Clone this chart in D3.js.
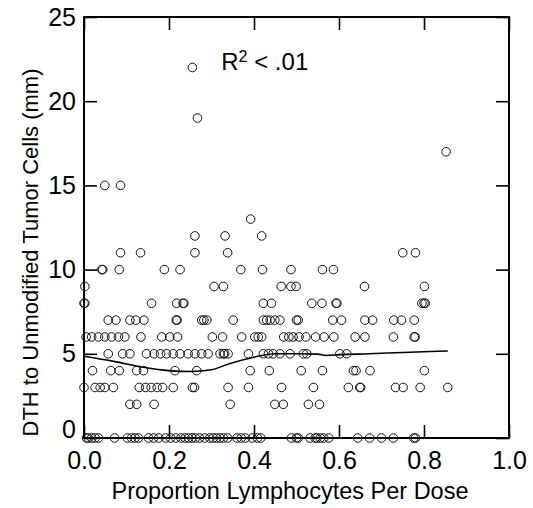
<!DOCTYPE html>
<html>
<head>
<meta charset="utf-8">
<script src="https://cdn.jsdelivr.net/npm/d3@7"></script>
<style>
  body { margin: 0; background: #fff; }
  svg { display: block; font-family: "Liberation Sans", Arial, sans-serif; }
</style>
</head>
<body>
<svg width="533" height="508"></svg>
<script>
// DTH response (mm) levels and the lymphocyte proportions observed at each level
const dthLevels = [0, 2, 3, 4, 5, 6, 7, 8, 9, 10, 11, 12, 13, 15, 17, 19, 22];
const proportions = [
  // 0 mm
  [0.006, 0.010, 0.018, 0.026, 0.034, 0.072, 0.102, 0.112, 0.120, 0.128, 0.152, 0.164, 0.176,
   0.192, 0.204, 0.216, 0.228, 0.238, 0.246, 0.254, 0.262, 0.272, 0.284, 0.296, 0.304, 0.312,
   0.320, 0.328, 0.338, 0.360, 0.370, 0.380, 0.396, 0.408, 0.416, 0.488, 0.500, 0.504, 0.532,
   0.544, 0.548, 0.556, 0.564, 0.576, 0.644, 0.672, 0.700, 0.728, 0.776, 0.780],
  // 2 mm
  [0.108, 0.124, 0.165, 0.344, 0.449, 0.469, 0.528, 0.554],
  // 3 mm
  [0.000, 0.026, 0.038, 0.049, 0.069, 0.130, 0.145, 0.158, 0.172, 0.185, 0.210, 0.255, 0.260,
   0.339, 0.387, 0.465, 0.540, 0.622, 0.649, 0.651, 0.733, 0.751, 0.791, 0.856],
  // 4 mm
  [0.020, 0.063, 0.083, 0.124, 0.140, 0.214, 0.265, 0.391, 0.436, 0.511, 0.561, 0.634, 0.640,
   0.673, 0.801],
  // 5 mm
  [0.057, 0.091, 0.108, 0.147, 0.165, 0.180, 0.194, 0.210, 0.226, 0.245, 0.261, 0.277, 0.292,
   0.320, 0.328, 0.331, 0.339, 0.387, 0.422, 0.434, 0.445, 0.461, 0.485, 0.516, 0.524, 0.602,
   0.618],
  // 6 mm
  [0.005, 0.018, 0.034, 0.049, 0.065, 0.081, 0.096, 0.134, 0.183, 0.202, 0.220, 0.302, 0.326,
   0.371, 0.402, 0.410, 0.418, 0.470, 0.482, 0.492, 0.506, 0.522, 0.545, 0.565, 0.588, 0.638,
   0.661, 0.728, 0.777, 0.779],
  // 7 mm
  [0.057, 0.075, 0.108, 0.122, 0.141, 0.217, 0.219, 0.277, 0.282, 0.289, 0.351, 0.422, 0.430,
   0.438, 0.449, 0.461, 0.500, 0.504, 0.585, 0.606, 0.661, 0.679, 0.729, 0.747, 0.777],
  // 8 mm
  [0.000, 0.002, 0.159, 0.218, 0.233, 0.235, 0.422, 0.441, 0.536, 0.560, 0.593, 0.595, 0.795,
   0.800, 0.803],
  // 9 mm
  [0.002, 0.306, 0.328, 0.464, 0.487, 0.499, 0.660, 0.801],
  // 10 mm
  [0.042, 0.044, 0.083, 0.189, 0.226, 0.369, 0.420, 0.487, 0.561, 0.587],
  // 11 mm
  [0.086, 0.133, 0.261, 0.338, 0.750, 0.780],
  // 12 mm
  [0.261, 0.332, 0.418],
  // 13 mm
  [0.392],
  // 15 mm
  [0.049, 0.086],
  // 17 mm
  [0.852],
  // 19 mm
  [0.267],
  // 22 mm
  [0.255]
];

// smoothed (lowess) trend
const trendX = [0.0, 0.07, 0.14, 0.20, 0.25, 0.30, 0.34, 0.40, 0.45, 0.50, 0.55, 0.57, 0.60, 0.67, 0.75, 0.856];
const trendY = [4.85, 4.55, 4.2, 4.0, 3.95, 4.05, 4.4, 4.8, 5.0, 5.0, 4.98, 4.9, 4.95, 5.0, 5.08, 5.17];

const xTicks = [0, 0.2, 0.4, 0.6, 0.8, 1.0];
const yTicks = [0, 5, 10, 15, 20, 25];

const MARGIN = { left: 84, top: 17 };
const WIDTH = 425;
const HEIGHT = 421;

const svg = d3.select("svg");
const g = svg.append("g").attr("transform", `translate(${MARGIN.left},${MARGIN.top})`);

const x = d3.scaleLinear().domain([0, 1]).range([0, WIDTH]);
const y = d3.scaleLinear().domain([0, 25]).range([HEIGHT, 0]);

// inward ticks on all four sides
const TICK = 13;
const axes = [
  [d3.axisBottom(x), `translate(0,${HEIGHT})`, true],
  [d3.axisTop(x), null, false],
  [d3.axisLeft(y), null, true],
  [d3.axisRight(y), `translate(${WIDTH},0)`, false]
];
axes.forEach(([axis, tr, labels], i) => {
  axis.tickValues(i < 2 ? xTicks : yTicks)
    .tickSizeInner(-TICK)
    .tickSizeOuter(0)
    .tickPadding(i < 2 ? 13 : 8)
    .tickFormat(labels ? (i < 2 ? d3.format(".1f") : d3.format("d")) : "");
  const a = g.append("g").attr("transform", tr).call(axis);
  a.select(".domain").remove();
  a.selectAll(".tick line").attr("stroke", "#000").attr("stroke-width", 1.6);
  a.selectAll(".tick text")
    .attr("fill", "#000")
    .style("font-size", "25px")
    .style("font-family", "Liberation Sans, Arial, sans-serif");
  // the y "0" sits a little higher so it clears the x labels
  if (i === 2) a.selectAll(".tick text").filter((d) => d === 0).attr("y", -9);
});

g.append("rect")
  .attr("width", WIDTH)
  .attr("height", HEIGHT)
  .attr("fill", "none")
  .attr("stroke", "#000")
  .attr("stroke-width", 2);

const points = dthLevels.flatMap((d, i) => proportions[i].map((p) => ({ p, d })));

g.append("g")
  .selectAll("circle")
  .data(points)
  .join("circle")
  .attr("cx", (d) => x(d.p))
  .attr("cy", (d) => y(d.d))
  .attr("r", 4.3)
  .attr("fill", "none")
  .attr("stroke", "#111")
  .attr("stroke-width", 1);

const line = d3.line()
  .x((d, i) => x(trendX[i]))
  .y((d) => y(d))
  .curve(d3.curveMonotoneX);

g.append("path")
  .attr("d", line(trendY))
  .attr("fill", "none")
  .attr("stroke", "#000")
  .attr("stroke-width", 1.6);

// R squared annotation
const r2 = g.append("text")
  .attr("x", x(0.323))
  .attr("y", 53)
  .style("font-size", "24px");
r2.append("tspan").text("R");
r2.append("tspan").attr("dy", -8).style("font-size", "16px").text("2");
r2.append("tspan").attr("dy", 8).text(" < .01");

svg.append("text")
  .attr("x", 290)
  .attr("y", 499)
  .attr("text-anchor", "middle")
  .style("font-size", "23.5px")
  .text("Proportion Lymphocytes Per Dose");

svg.append("text")
  .attr("transform", `translate(38,${MARGIN.top + HEIGHT / 2 + 25}) rotate(-90)`)
  .attr("text-anchor", "middle")
  .style("font-size", "22px")
  .text("DTH to Unmodified Tumor Cells (mm)");
</script>
</body>
</html>
